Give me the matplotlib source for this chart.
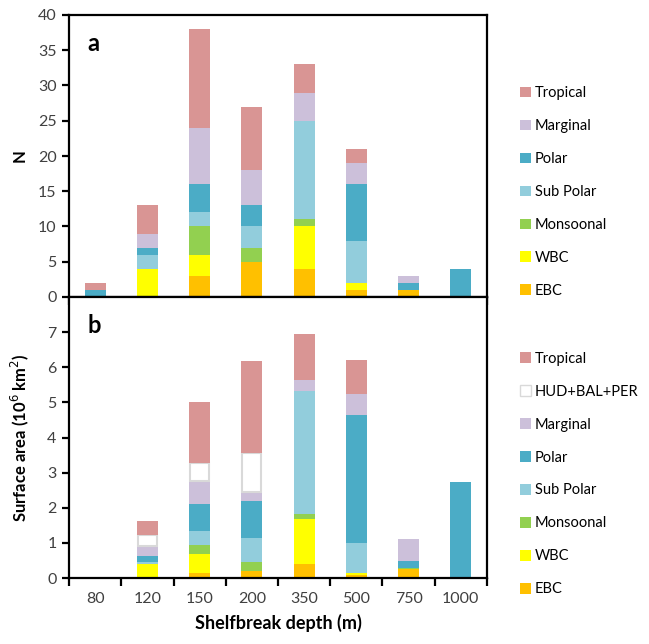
import matplotlib
matplotlib.use('Agg')
import matplotlib.pyplot as plt
import numpy as np
from matplotlib.patches import Patch

plt.rcParams['font.family'] = ['Lato', 'DejaVu Sans']

depths = ['80', '120', '150', '200', '350', '500', '750', '1000']

# panel a: number of systems (N)
ebc_n = [0, 0, 3, 5, 4, 1, 1, 0]
wbc_n = [0, 4, 3, 0, 6, 1, 0, 0]
monsoonal_n = [0, 0, 4, 2, 1, 0, 0, 0]
subpolar_n = [0, 2, 2, 3, 14, 6, 0, 0]
polar_n = [1, 1, 4, 3, 0, 8, 1, 4]
marginal_n = [0, 2, 8, 5, 4, 3, 1, 0]
tropical_n = [1, 4, 14, 9, 4, 2, 0, 0]

# panel b: surface area (10^6 km2)
ebc_a = [0, 0, 0.15, 0.21, 0.41, 0.08, 0.27, 0]
wbc_a = [0, 0.40, 0.52, 0, 1.28, 0.07, 0, 0]
monsoonal_a = [0, 0, 0.28, 0.24, 0.13, 0, 0.02, 0]
subpolar_a = [0, 0.06, 0.39, 0.70, 3.49, 0.84, 0, 0]
polar_a = [0, 0.18, 0.77, 1.04, 0, 3.65, 0.20, 2.72]
marginal_a = [0, 0.28, 0.64, 0.26, 0.32, 0.60, 0.61, 0]
hud_a = [0, 0.31, 0.53, 1.12, 0, 0, 0, 0]
tropical_a = [0.04, 0.38, 1.74, 2.60, 1.31, 0.98, 0, 0]

colors = {
    'EBC': '#FFC000',
    'WBC': '#FFFF00',
    'Monsoonal': '#92D050',
    'Sub Polar': '#92CDDC',
    'Polar': '#4BACC6',
    'Marginal': '#CCC0DA',
    'HUD+BAL+PER': '#FFFFFF',
    'Tropical': '#D99594',
}

series_n = [('EBC', ebc_n), ('WBC', wbc_n), ('Monsoonal', monsoonal_n),
            ('Sub Polar', subpolar_n), ('Polar', polar_n),
            ('Marginal', marginal_n), ('Tropical', tropical_n)]
series_a = [('EBC', ebc_a), ('WBC', wbc_a), ('Monsoonal', monsoonal_a),
            ('Sub Polar', subpolar_a), ('Polar', polar_a),
            ('Marginal', marginal_a), ('HUD+BAL+PER', hud_a),
            ('Tropical', tropical_a)]

fig = plt.figure(figsize=(6.49, 6.44), dpi=100)
ax1 = fig.add_axes([69 / 649, 1 - 297 / 644, 418 / 649, 282 / 644])
ax2 = fig.add_axes([69 / 649, 1 - 578 / 644, 418 / 649, 281 / 644])

x = np.arange(len(depths))
width = 0.4
tick_color = '#404040'


def stack(ax, series):
    bottom = np.zeros(len(depths))
    for name, vals in series:
        vals = np.array(vals, dtype=float)
        keep = vals > 0
        if name == 'HUD+BAL+PER':
            ax.bar(x[keep], vals[keep], width * 0.92, bottom=bottom[keep],
                   color='white', edgecolor='#D9D9D9', linewidth=1.5)
        else:
            ax.bar(x[keep], vals[keep], width, bottom=bottom[keep],
                   color=colors[name], linewidth=0)
        bottom += vals


def style(ax, ymax, step, label):
    ax.set_xlim(-0.5, len(depths) - 0.5)
    ax.set_ylim(0, ymax)
    ax.set_yticks(np.arange(0, ymax + 0.01, step))
    for s in ax.spines.values():
        s.set_linewidth(1.6)
    ax.set_xticks(x)
    ax.set_xticks(np.arange(-0.5, len(depths), 1), minor=True)
    ax.tick_params(axis='x', which='major', length=0)
    ax.tick_params(axis='x', which='minor', length=6, width=1.6, direction='out')
    ax.tick_params(axis='y', length=5, width=1.6, direction='out',
                   labelsize=11.5, labelcolor=tick_color, pad=4)
    ax.set_ylabel(label, fontsize=12, fontweight='bold')


stack(ax1, series_n)
style(ax1, 40, 5, 'N')
ax1.set_xticklabels([])
ax1.yaxis.set_label_coords(-0.10, 0.5)
ax1.text(0.045, 0.9, 'a', transform=ax1.transAxes, fontsize=17,
         fontweight='bold', va='center', ha='left')

stack(ax2, series_a)
style(ax2, 8, 1, 'Surface area (10$^{6}$ km$^{2}$)')
ax2.set_yticks(np.arange(0, 8, 1))
ax2.set_xticklabels(depths, fontsize=11.5, color=tick_color)
ax2.tick_params(axis='x', which='major', pad=10)
ax2.yaxis.set_label_coords(-0.09, 0.5)
ax2.set_xlabel('Shelfbreak depth (m)', fontsize=13, fontweight='bold',
               labelpad=6)
ax2.text(0.045, 0.9, 'b', transform=ax2.transAxes, fontsize=17,
         fontweight='bold', va='center', ha='left')


def legend(series, ycenter):
    handles = []
    for name, _ in reversed(series):
        if name == 'HUD+BAL+PER':
            handles.append(Patch(facecolor='white', edgecolor='#D9D9D9',
                                 linewidth=1.0, label=name))
        else:
            handles.append(Patch(facecolor=colors[name], label=name))
    fig.legend(handles=handles, loc='center left',
               bbox_to_anchor=(0.785, ycenter), frameon=False,
               fontsize=10.5, handlelength=0.75, handleheight=0.75,
               handletextpad=0.3, labelspacing=1.3, borderpad=0.2)


legend(series_n, 1 - 192 / 644)
legend(series_a, 1 - 474 / 644)

fig.savefig('out.png', dpi=100)
